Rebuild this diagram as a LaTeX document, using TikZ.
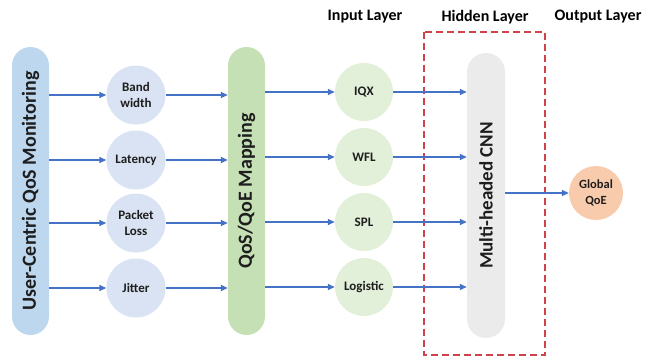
\documentclass[tikz,border=0pt]{standalone}
\usepackage{fontspec}
\setmainfont{Carlito}
\usetikzlibrary{arrows.meta}
\definecolor{arrblue}{HTML}{4472C4}
\definecolor{barblue}{HTML}{BDD7EE}
\definecolor{circblue}{HTML}{DAE3F3}
\definecolor{bargreen}{HTML}{C5E0B4}
\definecolor{circgreen}{HTML}{E2F0D9}
\definecolor{bargray}{HTML}{EBEBEB}
\definecolor{circorange}{HTML}{F8CBAD}
\definecolor{dashred}{HTML}{D0424A}
\definecolor{txt}{HTML}{1E1E1E}
\begin{document}
\begin{tikzpicture}[x=1pt,y=1pt,
  vbar/.style={rectangle, rounded corners=18.5pt, draw=none, minimum width=37pt, inner sep=0pt, text=txt, font=\fontsize{20}{24}\selectfont\bfseries},
  circ/.style={circle, draw=none, inner sep=0pt, text=txt, align=center, font=\fontsize{13}{16}\selectfont\bfseries},
  arr/.style={draw=arrblue, line width=1.4pt, -{Triangle[length=7pt,width=6pt]}},
  hdr/.style={font=\fontsize{16}{19}\selectfont\bfseries, text=black}]
\useasboundingbox (0,0) rectangle (646,360);
% dashed hidden-layer frame
\draw[dashred, line width=1.4pt, dash pattern=on 7pt off 4pt] (424,328) rectangle (545,5);
% bars
\node[vbar, fill=barblue, minimum height=288pt] (mon) at (30.5,169) {\rotatebox{90}{User-Centric QoS Monitoring}};
\node[vbar, fill=bargreen, minimum height=288pt] (map) at (246.5,169) {\rotatebox{90}{QoS/QoE Mapping}};
\node[vbar, fill=bargray, minimum width=38pt, minimum height=285pt, rounded corners=19pt, font=\fontsize{19}{23}\selectfont\bfseries] (cnn) at (486,164.5) {\rotatebox{90}{Multi-headed CNN}};
% QoS circles
\node[circ, fill=circblue, minimum size=59pt] (bw) at (136,265) {Band\\width};
\node[circ, fill=circblue, minimum size=59pt] (lat) at (136,200) {Latency};
\node[circ, fill=circblue, minimum size=59pt] (pl) at (136,137) {Packet\\Loss};
\node[circ, fill=circblue, minimum size=59pt] (jit) at (136,72) {Jitter};
% input circles
\node[circ, fill=circgreen, minimum size=58pt] (iqx) at (364,268) {IQX};
\node[circ, fill=circgreen, minimum size=58pt] (wfl) at (364,203) {WFL};
\node[circ, fill=circgreen, minimum size=58pt] (spl) at (364,138) {SPL};
\node[circ, fill=circgreen, minimum size=58pt] (log) at (364,73) {Logistic};
% output
\node[circ, fill=circorange, minimum size=54pt, font=\fontsize{12.5}{15.5}\selectfont\bfseries] (gq) at (596,167) {Global\\QoE};
% headers
\node[hdr] (hin) at (365,343) {Input Layer};
\node[hdr] (hhid) at (485,343) {Hidden Layer};
\node[hdr] (hout) at (598,343) {Output Layer};
% arrows
\foreach \c in {bw,lat,pl,jit}{
  \draw[arr] (mon.east |- \c) -- (\c);
  \draw[arr] (\c) -- (map.west |- \c);
}
\foreach \c in {iqx,wfl,spl,log}{
  \draw[arr] (map.east |- \c) -- (\c);
  \draw[arr] (\c) -- (cnn.west |- \c);
}
\draw[arr] (cnn.east |- gq) -- (gq);
\end{tikzpicture}
\end{document}
